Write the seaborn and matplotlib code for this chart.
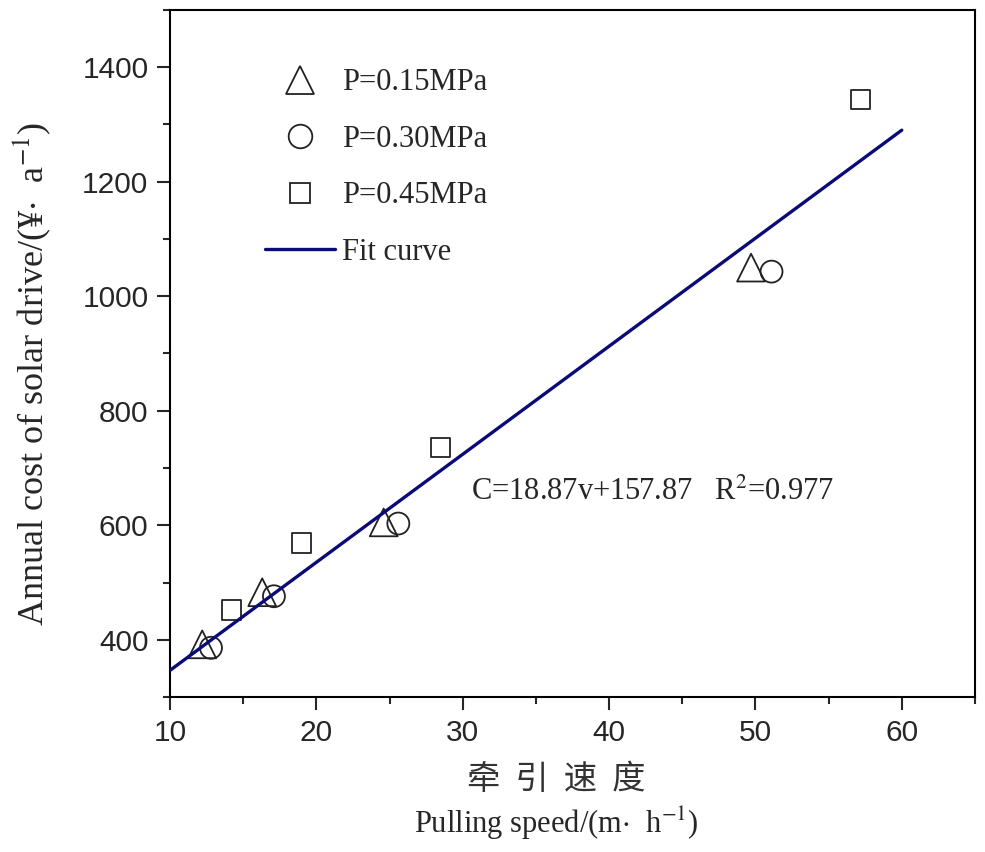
"""
Annual cost of solar drive vs pulling speed, with linear fit.
"""

import matplotlib

matplotlib.use("Agg")

import matplotlib.pyplot as plt
import numpy as np
import pandas as pd
import seaborn as sns
from matplotlib.lines import Line2D
from matplotlib.ticker import MultipleLocator

# values
pressure_labels = ["P=0.15MPa", "P=0.30MPa", "P=0.45MPa"]

speed_015 = [12.2, 16.3, 24.6, 49.7]
cost_015 = [392, 483, 605, 1050]

speed_030 = [12.8, 17.1, 25.6, 51.1]
cost_030 = [386, 476, 603, 1043]

speed_045 = [14.2, 19.0, 28.5, 57.2]
cost_045 = [452, 569, 736, 1343]

fit_slope = 18.87
fit_intercept = 157.87
fit_r2 = 0.977
fit_range = [10, 60]

x_ticks = [10, 20, 30, 40, 50, 60]
y_ticks = [400, 600, 800, 1000, 1200, 1400]

SERIF = ["Liberation Serif", "DejaVu Serif"]
SANS = ["Liberation Sans", "DejaVu Sans"]

sns.set_style("ticks")
plt.rcParams["font.family"] = SERIF
plt.rcParams["mathtext.fontset"] = "stix"

df = pd.concat(
    [
        pd.DataFrame({"speed": speed_015, "cost": cost_015, "pressure": pressure_labels[0]}),
        pd.DataFrame({"speed": speed_030, "cost": cost_030, "pressure": pressure_labels[1]}),
        pd.DataFrame({"speed": speed_045, "cost": cost_045, "pressure": pressure_labels[2]}),
    ],
    ignore_index=True,
)
markers = dict(zip(pressure_labels, ["^", "o", "s"]))
marker_sizes = {"^": 400, "o": 250, "s": 190}
legend_sizes = {"^": 20, "o": 17, "s": 15}

fit_x = np.array(fit_range, dtype=float)
fit_df = pd.DataFrame({"speed": fit_x, "cost": fit_slope * fit_x + fit_intercept})

fig = plt.figure(figsize=(9.85, 8.52), dpi=100)
ax = fig.add_axes([0.1726, 0.1819, 0.8172, 0.8064])

sns.lineplot(data=fit_df, x="speed", y="cost", color="#0b0b78", linewidth=2.4, ax=ax, zorder=3)

for label in pressure_labels:
    sub = df[df["pressure"] == label]
    sns.scatterplot(
        data=sub,
        x="speed",
        y="cost",
        marker=markers[label],
        s=marker_sizes[markers[label]],
        facecolor="none",
        edgecolor="#222222",
        linewidth=1.3,
        legend=False,
        ax=ax,
        zorder=2,
    )

ax.set_xlim(10, 65)
ax.set_ylim(300, 1500)
ax.set_xticks(x_ticks)
ax.set_yticks(y_ticks)
ax.xaxis.set_minor_locator(MultipleLocator(5))
ax.yaxis.set_minor_locator(MultipleLocator(100))
ax.tick_params(which="major", direction="out", length=9.5, width=1.5, labelsize=21.5, pad=6)
ax.tick_params(which="minor", direction="out", length=5, width=1.5)
ax.tick_params(top=False, right=False)
for tick_label in ax.get_xticklabels() + ax.get_yticklabels():
    tick_label.set_family(SANS)
for spine in ax.spines.values():
    spine.set_visible(True)
    spine.set_linewidth(1.5)
    spine.set_color("black")

ax.set_xlabel("Pulling speed/(m$\\cdot$  h$^{-1}$)", fontsize=22)
ax.xaxis.set_label_coords(0.48, -0.157)
ax.set_ylabel("Annual cost of solar drive/(¥$\\cdot$  a$^{-1}$)", fontsize=26)
ax.yaxis.set_label_coords(-0.145, 0.47)
ax.text(
    0.48, -0.12, "牵  引  速  度",
    transform=ax.transAxes, ha="center", va="center",
    fontsize=24, family=["Noto Sans CJK SC", "DejaVu Sans"], color="#333333",
)

ax.text(
    30.6, 657,
    f"C={fit_slope}v+{fit_intercept}   R$^2$={fit_r2}",
    ha="left", va="center", fontsize=22,
)

handles = [
    Line2D([], [], linestyle="none", marker=markers[label],
           markersize=legend_sizes[markers[label]],
           markerfacecolor="none", markeredgecolor="#222222", markeredgewidth=1.3)
    for label in pressure_labels
]
handles.append(Line2D([], [], color="#0b0b78", linewidth=2.4))
ax.legend(
    handles,
    pressure_labels + ["Fit curve"],
    loc="upper left",
    bbox_to_anchor=(0.103, 0.933),
    frameon=False,
    fontsize=22,
    handlelength=2.3,
    handletextpad=0.23,
    labelspacing=0.9,
    borderaxespad=0,
)

fig.savefig("out.png", dpi=100)
plt.close(fig)
